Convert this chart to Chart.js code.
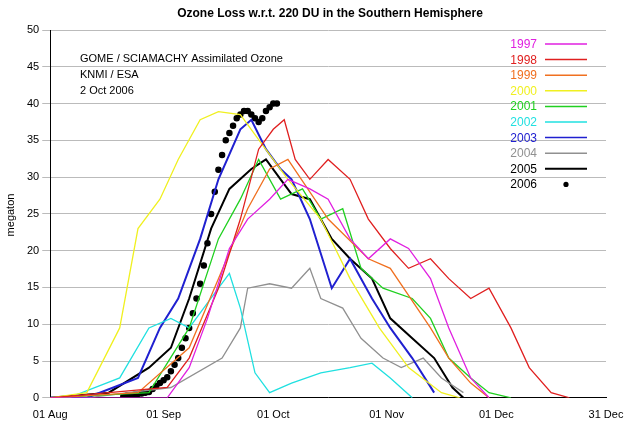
<!DOCTYPE html>
<html><head><meta charset="utf-8">
<script src="https://cdn.jsdelivr.net/npm/chart.js@4/dist/chart.umd.min.js"></script>
<style>html,body{margin:0;padding:0;background:#fff}</style>
</head><body><canvas id="c" width="640" height="435"></canvas>
<script>
const years=["1997","1998","1999","2000","2001","2002","2003","2004","2005","2006"];
const colors=["#e020e0","#e02020","#f07020","#f0f020","#20d020","#20e0e0","#2020d0","#909090","#000000","#000000"];
const tickDays=[0,31,61,92,122,152];
const tickLabels=["01 Aug","01 Sep","01 Oct","01 Nov","01 Dec","31 Dec"];
const d1997=[0,32,38,43,49,54,60,65,71,76,82,87,93,98,104,109,115,120];
const v1997=[0,0,4.1,10.8,20.3,24.3,27,29.7,28.4,27,21.6,18.9,21.6,20.3,16.2,9.5,2.7,0];
const d1998=[0,32,38,46,52,57,61,64,67,71,76,82,87,93,98,104,109,115,120,126,131,137,142];
const v1998=[0,1.4,5.4,14.9,24.3,33.8,36.5,37.8,32.4,29.7,32.4,29.7,24.3,20.3,17.6,18.9,16.2,13.5,14.9,9.5,4.1,0.7,0];
const d1999=[0,24,38,46,54,60,65,76,87,93,104,109,115,120];
const v1999=[0,0.7,6.8,16.2,25.7,31.1,32.4,24.3,18.9,17.6,9.5,5.4,2,0];
const d2000=[0,10,19,24,30,35,41,46,52,57,65,74,82,90,98,107,112];
const v2000=[0,0.7,9.5,23,27,32.4,37.8,38.9,38.5,35.1,29.7,24.3,16.2,9.5,4.1,0.7,0];
const d2001=[0,27,38,46,52,57,63,69,74,80,85,91,99,104,109,115,120,126];
const v2001=[0,0.7,9.5,21.6,27,32.4,27,28.4,24.3,25.7,17.6,14.9,13.5,10.8,5.4,2.7,0.7,0];
const d2002=[0,5,19,27,33,38,46,49,52,56,60,66,74,82,88,93,99];
const v2002=[0,0,2.7,9.5,10.8,9.5,14.9,16.9,12.2,3.4,0.7,2,3.4,4.1,4.7,2.7,0];
const d2003=[0,10,24,30,35,41,46,52,55,59,63,66,71,77,82,88,93,99,105];
const v2003=[0,0,2.7,9.5,13.5,21.6,29.7,36.5,37.8,33.8,31.1,29.7,24.3,14.9,18.9,13.5,9.5,5.4,0.7];
const d2004=[0,10,33,47,52,54,60,66,71,74,80,85,91,96,102,107,113];
const v2004=[0,0,1.4,5.4,9.5,14.9,15.5,14.9,17.6,13.5,12.2,8.1,5.4,4.1,5.4,2.7,0.7];
const d2005=[0,16,27,33,38,44,49,55,59,63,66,71,77,82,88,93,99,105,110,113];
const v2005=[0,0.7,4.1,6.8,13.5,23,28.4,31.1,32.4,29.7,27.7,27,21.6,18.9,16.2,10.8,8.1,5.4,1.4,0];
const d2006=[];for(let i=20;i<=62;i++)d2006.push(i);
const v2006=[0.2,0.3,0.3,0.4,0.5,0.6,0.7,0.8,1.2,1.6,2.0,2.4,2.8,3.6,4.5,5.4,6.8,8.1,9.5,11.5,13.5,15.5,18,21,25,28,31,33,35,36,37,38,38.5,39,39,38.5,38,37.5,38,39,39.5,40,40];
const D=[d1997,d1998,d1999,d2000,d2001,d2002,d2003,d2004,d2005,d2006];
const V=[v1997,v1998,v1999,v2000,v2001,v2002,v2003,v2004,v2005,v2006];
const datasets=years.map((y,i)=>({label:y,data:D[i].map((d,j)=>({x:d,y:V[i][j]})),
 borderColor:colors[i],backgroundColor:colors[i],borderWidth:i==8||i==6?2:1.3,
 showLine:i!=9,pointRadius:i==9?2.6:0,tension:0}));
const deco={id:'deco',afterDraw(ch){const c=ch.ctx;c.save();
 c.font='bold 12px "Liberation Sans",Arial';c.fillStyle='#000';c.textAlign='center';
 c.fillText('Ozone Loss w.r.t. 220 DU in the Southern Hemisphere',330,17);
 c.font='11px "Liberation Sans",Arial';c.textAlign='left';
 c.fillText('GOME / SCIAMACHY Assimilated Ozone',80,62);c.fillText('KNMI / ESA',80,78);c.fillText('2 Oct 2006',80,94);
 years.forEach((y,i)=>{const yy=48+i*15.6;c.textAlign='right';c.fillStyle=colors[i];c.font='12px "Liberation Sans",Arial';c.fillText(y,537,yy);
  if(i<9){c.strokeStyle=colors[i];c.lineWidth=i==8?2:1.5;c.beginPath();c.moveTo(545,yy-4);c.lineTo(587,yy-4);c.stroke();}
  else{c.beginPath();c.arc(566,yy-4,2.6,0,7);c.fill();}});
 c.translate(14,215);c.rotate(-Math.PI/2);c.textAlign='center';c.fillStyle='#000';c.font='11px "Liberation Sans",Arial';c.fillText('megaton',0,0);
 c.restore();}};
new Chart(document.getElementById('c'),{type:'scatter',data:{datasets},
 options:{responsive:false,animation:false,devicePixelRatio:1,
 layout:{padding:{top:30,right:34,left:24,bottom:10}},
 plugins:{legend:{display:false},tooltip:{enabled:false}},
 scales:{x:{type:'linear',min:0,max:152,afterBuildTicks:a=>{a.ticks=tickDays.map(v=>({value:v}));},
   ticks:{callback:(v)=>tickLabels[tickDays.indexOf(v)],color:'#000',font:{size:11,family:'Liberation Sans'},maxRotation:0},
   grid:{display:false},border:{color:'#000'}},
  y:{min:0,max:50,ticks:{stepSize:5,color:'#000',font:{size:11,family:'Liberation Sans'}},
   grid:{color:'#bbb',drawTicks:true},border:{color:'#000'}}}},
 plugins:[deco]});
</script></body></html>
